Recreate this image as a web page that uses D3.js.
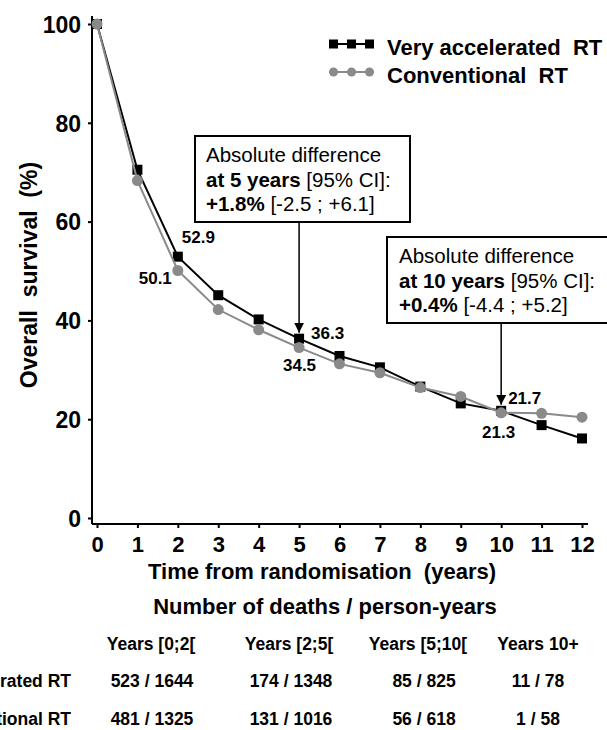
<!DOCTYPE html>
<html>
<head>
<meta charset="utf-8">
<script src="https://cdn.jsdelivr.net/npm/d3@7"></script>
<style>
  html, body { margin: 0; padding: 0; background: #fff; }
  svg { display: block; font-family: "Liberation Sans", Arial, sans-serif; }
</style>
</head>
<body>
<svg id="chart" width="607" height="730"></svg>
<script>
// ---- data ----
const years = [0, 1, 2, 3, 4, 5, 6, 7, 8, 9, 10, 11, 12];
const veryAccelerated = [100, 70.5, 52.9, 45.1, 40.2, 36.3, 32.8, 30.5, 26.6, 23.2, 21.7, 18.8, 16.1];
const conventional = [100, 68.3, 50.1, 42.2, 38.1, 34.5, 31.2, 29.4, 26.4, 24.6, 21.3, 21.2, 20.4];
const seriesNames = ["Very accelerated RT", "Conventional RT"];
const yTicks = [0, 20, 40, 60, 80, 100];
const xTicks = years;
const labelledPoints = [
  { series: 0, year: 2, text: "52.9" },
  { series: 1, year: 2, text: "50.1" },
  { series: 0, year: 5, text: "36.3" },
  { series: 1, year: 5, text: "34.5" },
  { series: 0, year: 10, text: "21.7" },
  { series: 1, year: 10, text: "21.3" }
];
const tableHeaders = ["Years [0;2[", "Years [2;5[", "Years [5;10[", "Years 10+"];
const tableVeryAcc = ["523 / 1644", "174 / 1348", "85 / 825", "11 / 78"];
const tableConv = ["481 / 1325", "131 / 1016", "56 / 618", "1 / 58"];

// ---- setup ----
const svg = d3.select("#chart");
const x = d3.scaleLinear().domain([0, 12]).range([97, 582]);
const y = d3.scaleLinear().domain([0, 100]).range([518, 24]);
const BLACK = "#000";
const GRAY = "#8a8a8a";

// axes lines
const axisX = 92, axisY = 524;
svg.append("line").attr("x1", axisX).attr("x2", axisX).attr("y1", 16).attr("y2", axisY)
  .attr("stroke", BLACK).attr("stroke-width", 2);
svg.append("line").attr("x1", axisX).attr("x2", 588).attr("y1", axisY).attr("y2", axisY)
  .attr("stroke", BLACK).attr("stroke-width", 2);

// y axis ticks & labels
const yAxis = d3.axisLeft(y).tickValues(yTicks).tickSize(4).tickPadding(7);
const gy = svg.append("g").attr("transform", `translate(${axisX},0)`).call(yAxis);
gy.select(".domain").remove();
gy.selectAll(".tick line").attr("stroke-width", 2);
gy.selectAll(".tick text").attr("font-size", 23).attr("font-weight", "bold")
  .attr("font-family", "Liberation Sans, Arial, sans-serif").attr("fill", BLACK).attr("dy", "0.36em");

// x axis ticks & labels
const xAxis = d3.axisBottom(x).tickValues(xTicks).tickSize(4).tickPadding(8);
const gx = svg.append("g").attr("transform", `translate(0,${axisY})`).call(xAxis);
gx.select(".domain").remove();
gx.selectAll(".tick line").attr("stroke-width", 2);
gx.selectAll(".tick text").attr("font-size", 22).attr("font-weight", "bold")
  .attr("font-family", "Liberation Sans, Arial, sans-serif").attr("fill", BLACK).attr("dy", "0.72em");

// axis titles
svg.append("text").attr("x", 322).attr("y", 579).attr("text-anchor", "middle")
  .attr("font-size", 22).attr("font-weight", "bold")
  .style("white-space", "pre")
  .text("Time from randomisation  (years)");
svg.append("text").attr("transform", "translate(37,275) rotate(-90)").attr("text-anchor", "middle")
  .attr("font-size", 23).attr("font-weight", "bold").style("white-space", "pre")
  .text("Overall  survival  (%)");

// lines
const line = d3.line().x((d, i) => x(years[i])).y(d => y(d));
svg.append("path").datum(veryAccelerated).attr("d", line)
  .attr("fill", "none").attr("stroke", BLACK).attr("stroke-width", 2);
svg.selectAll(".sq").data(veryAccelerated).enter().append("rect")
  .attr("x", (d, i) => x(years[i]) - 5).attr("y", d => y(d) - 5)
  .attr("width", 10).attr("height", 10).attr("fill", BLACK);

svg.append("path").datum(conventional).attr("d", line)
  .attr("fill", "none").attr("stroke", GRAY).attr("stroke-width", 2);
svg.selectAll(".ci").data(conventional).enter().append("circle")
  .attr("cx", (d, i) => x(years[i])).attr("cy", d => y(d)).attr("r", 5.5).attr("fill", GRAY);

// point labels
const labelOffsets = {
  "0-2": [4, -14, "start"], "1-2": [-6, 13, "end"],
  "0-5": [12, 0, "start"], "1-5": [17, 23.5, "end"],
  "0-10": [7, -7, "start"], "1-10": [14, 25, "end"]
};
labelledPoints.forEach(p => {
  const vals = p.series === 0 ? veryAccelerated : conventional;
  const off = labelOffsets[p.series + "-" + p.year];
  svg.append("text").attr("x", x(p.year) + off[0]).attr("y", y(vals[p.year]) + off[1])
    .attr("text-anchor", off[2]).attr("font-size", 17).attr("font-weight", "bold").text(p.text);
});

// annotation boxes with arrows
svg.append("defs").append("marker").attr("id", "arrow").attr("viewBox", "0 0 10 10")
  .attr("refX", 10).attr("refY", 5).attr("markerWidth", 10).attr("markerHeight", 10)
  .attr("markerUnits", "userSpaceOnUse").attr("orient", "auto")
  .append("path").attr("d", "M0,0 L10,5 L0,10 Z").attr("fill", BLACK);

function annotation(bx, by, bw, bh, tx, lines, year, vals) {
  svg.append("rect").attr("x", bx).attr("y", by).attr("width", bw).attr("height", bh)
    .attr("fill", "#fff").attr("stroke", BLACK).attr("stroke-width", 2);
  lines.forEach((parts, i) => {
    const t = svg.append("text").attr("x", tx).attr("y", by + 26 + i * 24.5)
      .attr("font-size", 20.5).style("white-space", "pre");
    parts.forEach(pt => t.append("tspan").attr("font-weight", pt[1] ? "bold" : "normal").text(pt[0]));
  });
  svg.append("line").attr("x1", x(year)).attr("x2", x(year))
    .attr("y1", by + bh).attr("y2", y(Math.max(vals[0], vals[1])) - 6)
    .attr("stroke", BLACK).attr("stroke-width", 1.5).attr("marker-end", "url(#arrow)");
}
annotation(195, 136, 215, 86, 206, [
  [["Absolute difference", false]],
  [["at 5 years", true], [" [95% CI]:", false]],
  [["+1.8%", true], [" [-2.5 ; +6.1]", false]]
], 5, [veryAccelerated[5], conventional[5]]);
annotation(387, 237, 225, 86, 399, [
  [["Absolute difference", false]],
  [["at 10 years", true], [" [95% CI]:", false]],
  [["+0.4%", true], [" [-4.4 ; +5.2]", false]]
], 10, [veryAccelerated[10], conventional[10]]);

// legend
const legendItems = [
  { name: seriesNames[0], color: BLACK, shape: "square", y: 44 },
  { name: seriesNames[1], color: GRAY, shape: "circle", y: 72 }
];
legendItems.forEach(it => {
  svg.append("line").attr("x1", 329).attr("x2", 374).attr("y1", it.y).attr("y2", it.y)
    .attr("stroke", it.color).attr("stroke-width", 2);
  [333.5, 351.5, 369.5].forEach(cx => {
    if (it.shape === "square") {
      svg.append("rect").attr("x", cx - 4.5).attr("y", it.y - 4.5).attr("width", 9).attr("height", 9).attr("fill", it.color);
    } else {
      svg.append("circle").attr("cx", cx).attr("cy", it.y).attr("r", 4.5).attr("fill", it.color);
    }
  });
  svg.append("text").attr("x", 387).attr("y", it.y + 11).attr("font-size", 22)
    .attr("font-weight", "bold").style("white-space", "pre").text(it.name.replace(" RT", "  RT"));
});

// table
svg.append("text").attr("x", 325).attr("y", 614).attr("text-anchor", "middle")
  .attr("font-size", 22).attr("font-weight", "bold").text("Number of deaths / person-years");
const colX = [151, 289, 418, 538];
const valX = [152, 291, 424, 538];
tableHeaders.forEach((h, i) => {
  svg.append("text").attr("x", colX[i]).attr("y", 650).attr("text-anchor", "middle")
    .attr("font-size", 17.5).attr("font-weight", "bold").text(h);
});
[[seriesNames[0], tableVeryAcc, 687], [seriesNames[1], tableConv, 725]].forEach(([name, vals, yy]) => {
  svg.append("text").attr("x", 71).attr("y", yy).attr("text-anchor", "end")
    .attr("font-size", 17.5).attr("font-weight", "bold").text(name);
  vals.forEach((v, i) => {
    svg.append("text").attr("x", valX[i]).attr("y", yy).attr("text-anchor", "middle")
      .attr("font-size", 17.5).attr("font-weight", "bold").text(v);
  });
});
</script>
</body>
</html>
